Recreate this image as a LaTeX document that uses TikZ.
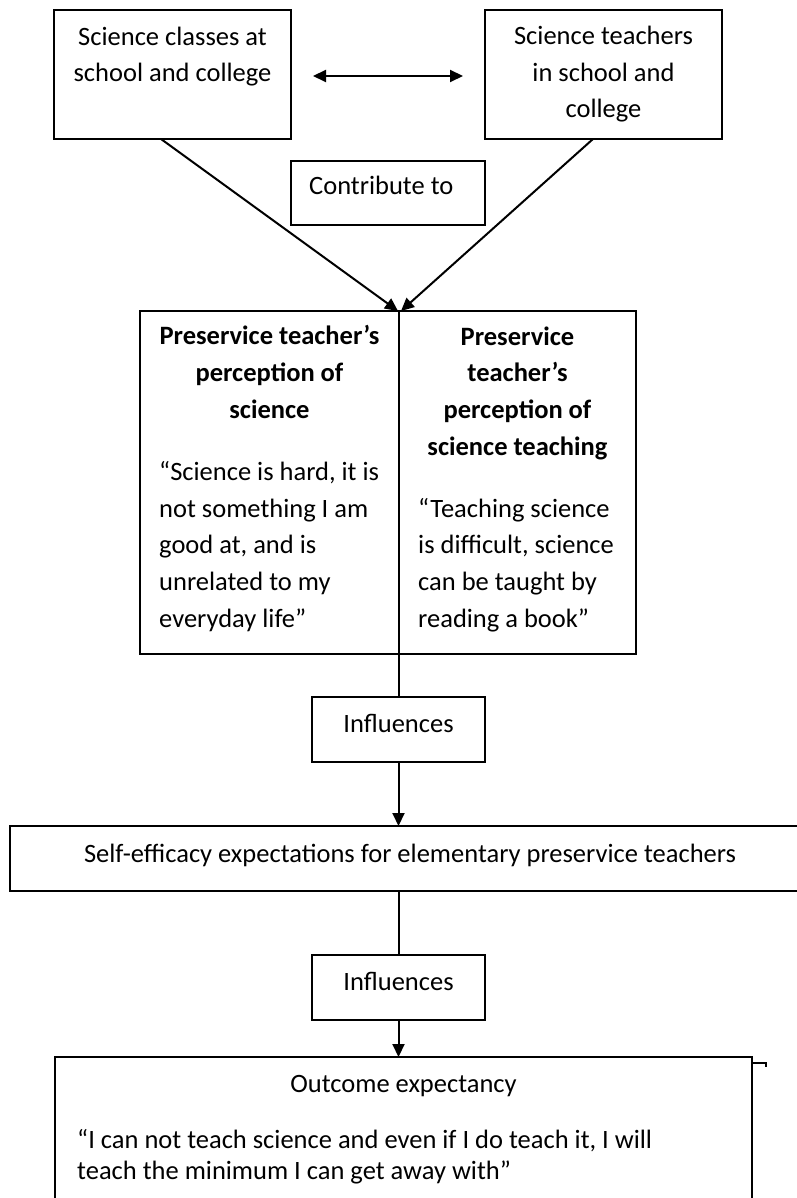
\documentclass[tikz,border=0pt]{standalone}
\usepackage{fontspec}
\setmainfont{Carlito}
\usetikzlibrary{arrows.meta, positioning, calc}

\begin{document}
\begin{tikzpicture}[x=1pt, y=-1pt,
        box/.style={draw, line width=1.5pt, inner sep=0pt, outer sep=0pt, anchor=north west},
        wide/.style={box, line width=2pt},
        txt/.style={inner sep=0pt, font=\fontsize{26.5}{36.6}\selectfont},
        head/.style={txt, align=center, font=\fontsize{26.5}{36.6}\selectfont\bfseries},
        link/.style={line width=2pt},
        tip/.style={link, -{Triangle[length=13pt,width=12pt]}},
        tips/.style={link, {Triangle[length=13pt,width=12pt]}-{Triangle[length=13pt,width=12pt]}}]
        \useasboundingbox (0,0) rectangle (796,1198);

        \node[box, minimum width=237pt, minimum height=129pt] (classes) at (54,10) {};
        \node[box, minimum width=237pt, minimum height=129pt] (teachers) at (485,10) {};
        \node[box, minimum width=194pt, minimum height=64pt] (contrib) at (291,161) {};
        \node[box, minimum width=259pt, minimum height=343pt] (sci) at (140,311) {};
        \node[box, minimum width=237pt, minimum height=343pt] (teach) at (399,311) {};
        \node[box, minimum width=173pt, minimum height=65pt] (infl1) at (312,697) {};
        \node[wide, minimum width=800pt, minimum height=65pt] (selfeff) at (10,826) {};
        \node[box, minimum width=173pt, minimum height=65pt] (infl2) at (312,955) {};
        \node[wide, minimum width=697pt, minimum height=170pt] (outcome) at (55,1057) {};

        \node[txt, anchor=base, align=center] at ([yshift=-72pt]classes.north) {Science classes at\\school and college};
        \node[txt, anchor=base, align=center] at ([yshift=-108pt]teachers.north) {Science teachers\\in school and\\college};
        \node[txt, anchor=base west] at ([xshift=18pt, yshift=-34pt]contrib.north west) {Contribute to};
        \node[head, anchor=base] at ([yshift=-107pt]sci.north) {Preservice teacher’s\\perception of\\science};
        \node[txt, anchor=base west, align=left] at ([xshift=19pt, yshift=-316pt]sci.north west) {“Science is hard, it is\\not something I am\\good at, and is\\unrelated to my\\everyday life”};
        \node[head, anchor=base] at ([yshift=-144pt]teach.north) {Preservice\\teacher’s\\perception of\\science teaching};
        \node[txt, anchor=base west, align=left] at ([xshift=19pt, yshift=-316pt]teach.north west) {“Teaching science\\is difficult, science\\can be taught by\\reading a book”};
        \node[txt, anchor=base] at ([yshift=-35pt]infl1.north) {Influences};
        \node[txt, anchor=base] at ([yshift=-36pt]selfeff.north) {Self-efficacy expectations for elementary preservice teachers};
        \node[txt, anchor=base] at ([yshift=-35pt]infl2.north) {Influences};
        \node[txt, anchor=base] at ([yshift=-35pt]outcome.north) {Outcome expectancy};
        \node[txt, anchor=base west, align=left, font=\fontsize{26.5}{31}\selectfont] at ([xshift=22pt, yshift=-122pt]outcome.north west) {“I can not teach science and even if I do teach it, I will\\teach the minimum I can get away with”};

        \draw[tips] ([xshift=22pt, yshift=-1.5pt]classes.east) -- ([xshift=-22pt, yshift=-1.5pt]teachers.west);
        \draw[tip] ([xshift=-11.5pt]classes.south) -- ([xshift=-1pt]sci.north east);
        \draw[tip] ([xshift=-10.5pt]teachers.south) -- ([xshift=2pt]sci.north east);
        \draw[link] (sci.south east) -- (sci.south east |- infl1.north);
        \draw[tip] (infl1.south) -- (infl1.south |- selfeff.north);
        \draw[link] (infl2.north |- selfeff.south) -- (infl2.north);
        \draw[tip] (infl2.south) -- (infl2.south |- outcome.north);
        \draw[line width=1.2pt] ([yshift=-6pt]outcome.north east) -- ++(14,0) -- ++(0,4);
\end{tikzpicture}
\end{document}
